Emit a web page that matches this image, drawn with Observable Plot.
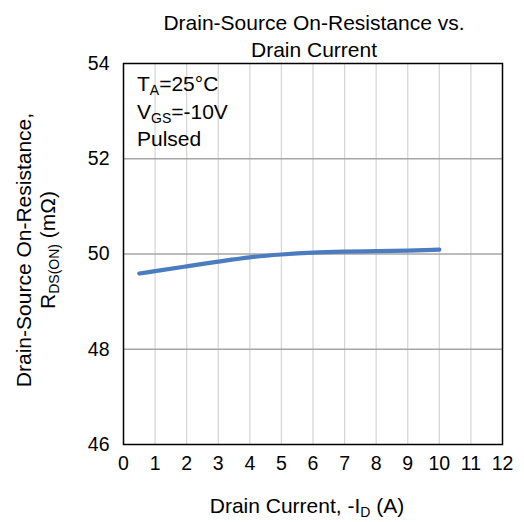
<!DOCTYPE html>
<html>
<head>
<meta charset="utf-8">
<script src="https://cdn.jsdelivr.net/npm/d3@7"></script>
<script src="https://cdn.jsdelivr.net/npm/@observablehq/plot@0.6"></script>
<style>
  html, body { margin: 0; padding: 0; background: #fff; }
  #chart { width: 524px; height: 522px; }
</style>
</head>
<body>
<div id="chart"></div>
<script>
const current = [0.5, 1, 2, 3, 4, 5, 6, 7, 8, 9, 10];
const rdson = [49.59, 49.64, 49.74, 49.84, 49.93, 49.99, 50.03, 50.05, 50.06, 50.07, 50.09];
const xTicks = [0, 1, 2, 3, 4, 5, 6, 7, 8, 9, 10, 11, 12];
const yTicks = [46, 48, 50, 52, 54];
const xGrid = [1, 2, 3, 4, 5, 6, 7, 8, 9, 10, 11];
const yGrid = [48, 50, 52];

const data = current.map((x, i) => ({x, y: rdson[i]}));

const font = "'Liberation Sans', Arial, sans-serif";

const plot = Plot.plot({
  width: 524,
  height: 522,
  marginTop: 63,
  marginLeft: 123,
  marginRight: 22,
  marginBottom: 78,
  style: {fontFamily: font, fontSize: "19.5px", color: "#000", background: "#fff"},
  x: {domain: [0, 12], ticks: xTicks, tickSize: 0, tickPadding: 12, label: null},
  y: {domain: [46, 54], ticks: yTicks, tickSize: 0, tickPadding: 14, label: null},
  marks: [
    Plot.ruleX(xGrid, {stroke: "#d4d4d4", strokeWidth: 1.2}),
    Plot.ruleY(yGrid, {stroke: "#a6a6a6", strokeWidth: 1.4}),
    Plot.line(data, {x: "x", y: "y", stroke: "#4a7cbf", strokeWidth: 4.2, curve: "monotone-x"}),
    Plot.frame({stroke: "#000", strokeWidth: 1.5})
  ]
});

document.getElementById("chart").appendChild(plot);

const svg = d3.select(plot);
function addText(x, y, parts, opts = {}) {
  const t = svg.append("text")
    .attr("x", x).attr("y", y)
    .attr("font-family", font)
    .attr("font-size", opts.size || 21)
    .attr("fill", "#000")
    .attr("text-anchor", opts.anchor || "start");
  if (opts.rotate) t.attr("transform", `rotate(-90 ${x} ${y})`);
  let shifted = false;
  for (const p of parts) {
    const s = t.append("tspan").text(p.t);
    if (p.sub && !shifted) { s.attr("dy", 4).attr("font-size", 14); shifted = true; }
    else if (p.sub) { s.attr("font-size", 14); }
    else if (!p.sub && shifted) { s.attr("dy", -4); shifted = false; }
  }
  return t;
}

// Title
addText(314, 30, [{t: "Drain-Source On-Resistance vs."}], {anchor: "middle", size: 21});
addText(314, 57, [{t: "Drain Current"}], {anchor: "middle", size: 21});

// Annotations
addText(137, 91, [{t: "T"}, {t: "A", sub: true}, {t: "=25°C"}]);
addText(137, 119, [{t: "V"}, {t: "GS", sub: true}, {t: "=-10V"}]);
addText(137, 146, [{t: "Pulsed"}]);

// X axis label
addText(307, 513, [{t: "Drain Current, -I"}, {t: "D", sub: true}, {t: " (A)"}], {anchor: "middle", size: 21});

// Y axis label
addText(31, 250, [{t: "Drain-Source On-Resistance,"}], {anchor: "middle", size: 21, rotate: true});
addText(55, 250, [{t: "R"}, {t: "DS(ON)", sub: true}, {t: " (mΩ)"}], {anchor: "middle", size: 21, rotate: true});
</script>
</body>
</html>
